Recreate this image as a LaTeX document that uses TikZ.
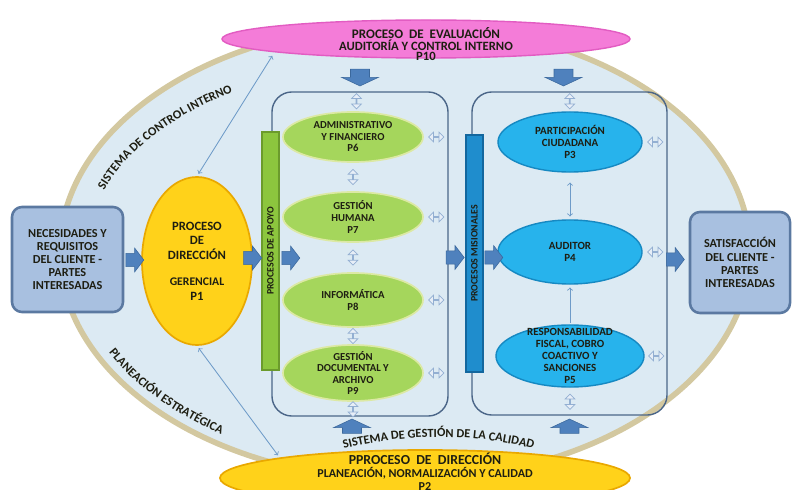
\documentclass[tikz,border=0pt]{standalone}
\usepackage{fontspec}
\setmainfont{Carlito}[BoldFont={Carlito Bold}]
\usetikzlibrary{shapes.geometric}
\usetikzlibrary{shapes.arrows}
\usetikzlibrary{decorations.text}
\usetikzlibrary{calc}

\definecolor{fondo}{HTML}{DCEAF3}
\definecolor{borde}{HTML}{D3C8A0}
\definecolor{rosa}{HTML}{F47CD8}
\definecolor{rosaborde}{HTML}{E25CC2}
\definecolor{amarillo}{HTML}{FFD21A}
\definecolor{amarilloborde}{HTML}{E9A800}
\definecolor{verde}{HTML}{A5D65C}
\definecolor{verdeborde}{HTML}{DCE9A4}
\definecolor{verdebarra}{HTML}{8CC63E}
\definecolor{verdebarraborde}{HTML}{6B9B2C}
\definecolor{azul}{HTML}{27B3EC}
\definecolor{azulborde}{HTML}{1689C2}
\definecolor{azulbarra}{HTML}{1F8DCD}
\definecolor{azulbarraborde}{HTML}{13679E}
\definecolor{caja}{HTML}{A8C0E0}
\definecolor{cajaborde}{HTML}{5B79A1}
\definecolor{flecha}{HTML}{4F81BD}
\definecolor{flechaborde}{HTML}{3B689C}
\definecolor{linea}{HTML}{4B6688}
\definecolor{flechita}{HTML}{E7EEF7}
\definecolor{flechitaborde}{HTML}{93AFD2}
\definecolor{conector}{HTML}{6E9BC8}
\definecolor{texto}{HTML}{1E1E12}

\newcommand\txtarco{\fontsize{8.8}{9}\selectfont\bfseries\color{texto}}

\tikzset{
  x=0.025cm, y=0.025cm,
  every node/.style={text=texto, font=\bfseries},
  proceso/.style={ellipse, inner sep=0pt},
  verdeell/.style={proceso, fill=verde, draw=verdeborde, line width=1.2pt, minimum width=3.5cm},
  azulell/.style={proceso, fill=azul, draw=azulborde, line width=1pt},
  txt/.style={align=center, inner sep=0pt, font=\fontsize{7.6}{8.2}\selectfont\bfseries},
  txtazul/.style={txt, font=\fontsize{7.8}{8.6}\selectfont\bfseries},
  caja/.style={rectangle, rounded corners=0.25cm, fill=caja, draw=cajaborde, line width=1.8pt, align=center, inner sep=0pt, font=\fontsize{8.7}{9.3}\selectfont\bfseries},
  marco/.style={rectangle, rounded corners=0.5cm, draw=linea, line width=1pt},
  barra/.style={rectangle, rotate=90, inner sep=0pt, minimum height=0.425cm, line width=0.8pt, font=\fontsize{7}{8}\selectfont\bfseries},
  bloque/.style={single arrow, fill=flecha, draw=flechaborde, line width=0.4pt, inner xsep=0pt, inner ysep=0.16cm, single arrow head extend=0.13cm, single arrow tip angle=105, minimum height=0.45cm},
  bloquev/.style={bloque, minimum height=0.42cm, inner ysep=0.23cm, single arrow head extend=0.22cm, single arrow tip angle=130},
  flechita/.style={double arrow, fill=flechita, draw=flechitaborde, line width=0.5pt, inner sep=0pt, double arrow head extend=0.07cm, minimum height=0.38cm, minimum width=0.24cm},
  conector/.style={draw=conector, line width=0.6pt}
}

\begin{document}
\begin{tikzpicture}
\useasboundingbox (0,0) rectangle (792,489);
\coordinate (centro) at (405,237);
\draw[fill=fondo, draw=borde, line width=4pt] (centro) ellipse [x radius=8.625cm, y radius=5.7cm];

\path[decorate, decoration={text along path, text align=center, text={|\txtarco|SISTEMA DE CONTROL INTERNO}}] ($(centro)+(168:7.95cm and 4.75cm)$) arc[start angle=168, end angle=118, x radius=7.95cm, y radius=4.75cm];
\path[decorate, decoration={text along path, text align=center, text={|\txtarco|PLANEACIÓN ESTRATÉGICA}}] ($(centro)+(198:8.35cm and 5.45cm)$) arc[start angle=198, end angle=244, x radius=8.35cm, y radius=5.45cm];
\path[decorate, decoration={text along path, text align=center, text={|\txtarco|SISTEMA DE GESTIÓN DE LA CALIDAD}}] (333,37) .. controls (400,57) and (480,57) .. (544,37);

\node[marco, minimum width=4.4cm, minimum height=8.1cm] (capoyo) at (360,235) {};
\node[marco, minimum width=4.875cm, minimum height=8.075cm] (cmis) at (569.5,235.5) {};
\node[barra, fill=verdebarra, draw=verdebarraborde, minimum width=5.95cm] (apoyo) at (270.5,238) {PROCESOS DE APOYO};
\node[barra, fill=azulbarra, draw=azulbarraborde, minimum width=5.925cm] (misional) at (474.5,235.5) {PROCESOS MISIONALES};

\node[caja, minimum width=2.775cm, minimum height=2.625cm] (need) at (67.5,229.5) {NECESIDADES Y\\REQUISITOS\\DEL CLIENTE -\\PARTES\\INTERESADAS};
\node[caja, minimum width=2.5cm, minimum height=2.525cm] (sat) at (740,226.5) {SATISFACCIÓN\\DEL CLIENTE -\\PARTES\\INTERESADAS};

\node[proceso, fill=amarillo, draw=amarilloborde, line width=1.2pt, minimum width=2.75cm, minimum height=4.2cm, label={[txt, name=p1t, font=\fontsize{9}{10.4}\selectfont\bfseries]center:{PROCESO\\DE\\DIRECCIÓN\\[8pt]{\fontsize{8.3}{10.4}\selectfont GERENCIAL}\\P1}}] (p1) at (197,228) {};

\node[verdeell, minimum height=1.25cm, label={[txt, name=p6t]center:{ADMINISTRATIVO\\Y FINANCIERO\\P6}}] (p6) at (353,352) {};
\node[verdeell, minimum height=1.25cm, label={[txt, name=p7t]center:{GESTIÓN\\HUMANA\\P7}}] (p7) at (353,272) {};
\node[verdeell, minimum height=1.35cm, label={[txt, name=p8t]center:{INFORMÁTICA\\P8}}] (p8) at (353,189) {};
\node[verdeell, minimum height=1.4cm, label={[txt, name=p9t]center:{GESTIÓN\\DOCUMENTAL Y\\ARCHIVO\\P9}}] (p9) at (353,116) {};

\node[azulell, minimum width=3.6cm, minimum height=1.5cm, label={[txtazul, name=p3t]center:{PARTICIPACIÓN\\CIUDADANA\\P3}}] (p3) at (570,347) {};
\node[azulell, minimum width=3.6cm, minimum height=1.6cm, label={[txtazul, name=p4t]center:{AUDITOR\\P4}}] (p4) at (570,237) {};
\node[azulell, minimum width=3.7cm, minimum height=1.55cm, label={[txtazul, name=p5t]center:{RESPONSABILIDAD\\FISCAL, COBRO\\COACTIVO Y\\SANCIONES\\P5}}] (p5) at (570,133) {};

\node[proceso, fill=rosa, draw=rosaborde, line width=1pt, minimum width=10.2cm, minimum height=0.95cm] (p10) at (426,450) {};
\node[txt, font=\fontsize{9}{7.6}\selectfont\bfseries] (p10t) at (426,445) {{\fontsize{9.3}{7.6}\selectfont PROCESO\ \ DE\ \ EVALUACIÓN}\\AUDITORÍA Y CONTROL INTERNO\\P10};
\node[proceso, fill=amarillo, draw=amarilloborde, line width=1.2pt, minimum width=10.25cm, minimum height=1.4cm] (p2) at (425,11) {};
\node[txt, font=\fontsize{8.6}{9.2}\selectfont\bfseries] (p2t) at (425,17) {{\fontsize{9.8}{9.2}\selectfont PPROCESO\ \ DE\ \ DIRECCIÓN}\\PLANEACIÓN, NORMALIZACIÓN Y CALIDAD\\P2};

\node[bloque, anchor=tip] (a1) at ($(p1.west)+(3,1)$) {};
\node[bloque, anchor=tip] (a2) at ($(apoyo.center)+(-8.5,-7)$) {};
\node[bloque, anchor=tail] (a3) at ($(apoyo.center)+(11,-7)$) {};
\node[bloque, anchor=tip] (a4) at ($(misional.center)+(-10,-4)$) {};
\node[bloque, anchor=tail] (a5) at ($(misional.center)+(10,-4)$) {};
\node[bloque, anchor=tip] (a6) at ($(sat.west)+(-4,3)$) {};
\node[bloquev, rotate=-90, anchor=tip] (t1) at ($(capoyo.north)+(0,5)$) {};
\node[bloquev, rotate=-90, anchor=tip] (t2) at ($(cmis.north)+(-6,5)$) {};
\node[bloquev, rotate=90, minimum height=0.36cm, anchor=tip] (b1) at ($(capoyo.south)+(-8,-2)$) {};
\node[bloquev, rotate=90, minimum height=0.36cm, anchor=tip] (b2) at ($(cmis.south)+(0,-3)$) {};

\node[flechita, rotate=90] (v0) at ($(capoyo.north)!0.5!(p6.north)$) {};
\node[flechita, rotate=90] (v1) at ($(p6.south)!0.5!(p7.north)$) {};
\node[flechita, rotate=90] (v2) at ($(p7.south)!0.5!(p8.north)$) {};
\node[flechita, rotate=90] (v3) at ($(p8.south)!0.5!(p9.north)$) {};
\node[flechita, rotate=90] (v4) at ($(p9.south)!0.5!(p9.south |- capoyo.south)$) {};
\node[flechita, rotate=90] (w0) at ($(cmis.north)!0.5!(p3.north)$) {};
\node[flechita, rotate=90] (w5) at ($(p5.south)!0.5!(p5.south |- cmis.south)$) {};
\node[flechita] (h6) at ($(p6.east)!0.5!(p6.east -| capoyo.east)$) {};
\node[flechita] (h7) at ($(p7.east)!0.5!(p7.east -| capoyo.east)$) {};
\node[flechita] (h8) at ($(p8.east)!0.5!(p8.east -| capoyo.east)$) {};
\node[flechita] (h9) at ($(p9.east)!0.5!(p9.east -| capoyo.east)$) {};
\node[flechita] (h3) at ($(p3.east)!0.5!(p3.east -| cmis.east)$) {};
\node[flechita] (h4) at ($(p4.east)!0.5!(p4.east -| cmis.east)$) {};
\node[flechita] (h5) at ($(p5.east)!0.5!(p5.east -| cmis.east)$) {};

\draw[conector, <->, shorten <=3pt, shorten >=2pt] (p10.185) -- (p1.north);
\draw[conector, <->, shorten <=2pt, shorten >=2pt] (p1.south) -- (p2.172);
\draw[conector, <->, shorten <=7pt, shorten >=2pt] (p3.south) -- (p4.north);
\draw[conector, ->, shorten <=1pt, shorten >=2pt] (p5.north) -- (p4.south);
\end{tikzpicture}
\end{document}
